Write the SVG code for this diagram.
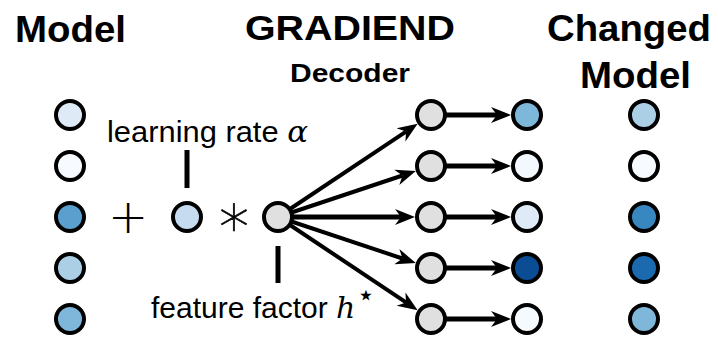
<svg xmlns="http://www.w3.org/2000/svg" width="718" height="337" viewBox="0 0 718 337">
<defs>
<marker id="ah" markerUnits="userSpaceOnUse" markerWidth="24" markerHeight="20" viewBox="0 -10 24 20" refX="6" refY="0" orient="auto">
<path d="M20,0 L0,-8 L6,0 L0,8 Z" fill="#000"/>
</marker>
</defs>
<style>
.title{font-family:"Liberation Sans",Arial,sans-serif;font-weight:bold;fill:#000}
.lbl{font-family:"Liberation Sans",Arial,sans-serif;fill:#000}
.math{font-family:"DejaVu Serif","Liberation Serif",serif;font-style:italic}
.op{font-family:"DejaVu Sans",sans-serif;font-weight:200;fill:#000}
.n{stroke:#000;stroke-width:4}
.ln{stroke:#000;stroke-width:4;fill:none;marker-end:url(#ah)}
.lh{stroke:#000;stroke-width:5;fill:none;marker-end:url(#ah)}
.bar{fill:#000}
</style>
<rect width="718" height="337" fill="#fff"/>
<text class="title" x="15" y="42" font-size="36" textLength="111" lengthAdjust="spacingAndGlyphs">Model</text>
<text class="title" x="245" y="40" font-size="35" textLength="210" lengthAdjust="spacingAndGlyphs">GRADIEND</text>
<text class="title" x="290" y="82" font-size="25" textLength="120" lengthAdjust="spacingAndGlyphs">Decoder</text>
<text class="title" x="547" y="41" font-size="36" textLength="164" lengthAdjust="spacingAndGlyphs">Changed</text>
<text class="title" x="580" y="88" font-size="36" textLength="111" lengthAdjust="spacingAndGlyphs">Model</text>

<g id="connectors">
<line class="ln" x1="278" y1="217" x2="406" y2="131.6"/>
<line class="ln" x1="278" y1="217" x2="402.5" y2="175.5"/>
<line class="lh" x1="278" y1="217" x2="401" y2="217"/>
<line class="ln" x1="278" y1="217" x2="402.5" y2="258.5"/>
<line class="ln" x1="278" y1="217" x2="406" y2="302.4"/>
<line class="lh" x1="431" y1="115" x2="497" y2="115"/>
<line class="lh" x1="431" y1="166" x2="497" y2="166"/>
<line class="lh" x1="431" y1="217" x2="497" y2="217"/>
<line class="lh" x1="431" y1="268" x2="497" y2="268"/>
<line class="lh" x1="431" y1="319" x2="497" y2="319"/>
</g>

<g id="model">
<circle class="n" cx="70" cy="115" r="14" fill="#deebf7"/>
<circle class="n" cx="70" cy="166" r="14" fill="#f7fbff"/>
<circle class="n" cx="70" cy="217" r="14" fill="#5a9fcd"/>
<circle class="n" cx="70" cy="268" r="14" fill="#abd0e6"/>
<circle class="n" cx="70" cy="319" r="14" fill="#7fb7da"/>
</g>
<g id="plus"><text class="op" x="128" y="233" font-size="48" text-anchor="middle">+</text></g>
<g id="alpha">
<rect class="bar" x="184.5" y="150" width="5" height="38"/>
<circle class="n" cx="187" cy="217" r="14" fill="#c6dbef"/>
<text class="lbl" x="107" y="142" font-size="30" textLength="201" lengthAdjust="spacingAndGlyphs">learning rate <tspan class="math">α</tspan></text>
</g>
<g id="times"><text class="op" x="234" y="236" font-size="60" text-anchor="middle" stroke="#000" stroke-width="0.6">∗</text></g>
<g id="feature">
<rect class="bar" x="275.5" y="246" width="5" height="37"/>
<circle class="n" cx="278" cy="217" r="14" fill="#e0e0e0"/>
<text class="lbl" x="151" y="318" font-size="30">feature factor <tspan class="math">h</tspan><tspan font-family="DejaVu Sans,sans-serif" font-size="30" dx="1" dy="-13">⋆</tspan></text>
</g>
<g id="decoder">
<circle class="n" cx="431" cy="115" r="14" fill="#e0e0e0"/>
<circle class="n" cx="431" cy="166" r="14" fill="#e0e0e0"/>
<circle class="n" cx="431" cy="217" r="14" fill="#e0e0e0"/>
<circle class="n" cx="431" cy="268" r="14" fill="#e0e0e0"/>
<circle class="n" cx="431" cy="319" r="14" fill="#e0e0e0"/>
</g>
<g id="output">
<circle class="n" cx="527" cy="115" r="14" fill="#7db8da"/>
<circle class="n" cx="527" cy="166" r="14" fill="#f2f8fd"/>
<circle class="n" cx="527" cy="217" r="14" fill="#deebf7"/>
<circle class="n" cx="527" cy="268" r="14" fill="#0b4d95"/>
<circle class="n" cx="527" cy="319" r="14" fill="#f5fafe"/>
</g>
<g id="changed">
<circle class="n" cx="644" cy="115" r="14" fill="#abd0e6"/>
<circle class="n" cx="644" cy="166" r="14" fill="#f7fbff"/>
<circle class="n" cx="644" cy="217" r="14" fill="#3787c0"/>
<circle class="n" cx="644" cy="268" r="14" fill="#1b69af"/>
<circle class="n" cx="644" cy="319" r="14" fill="#7fb7da"/>
</g>
</svg>
